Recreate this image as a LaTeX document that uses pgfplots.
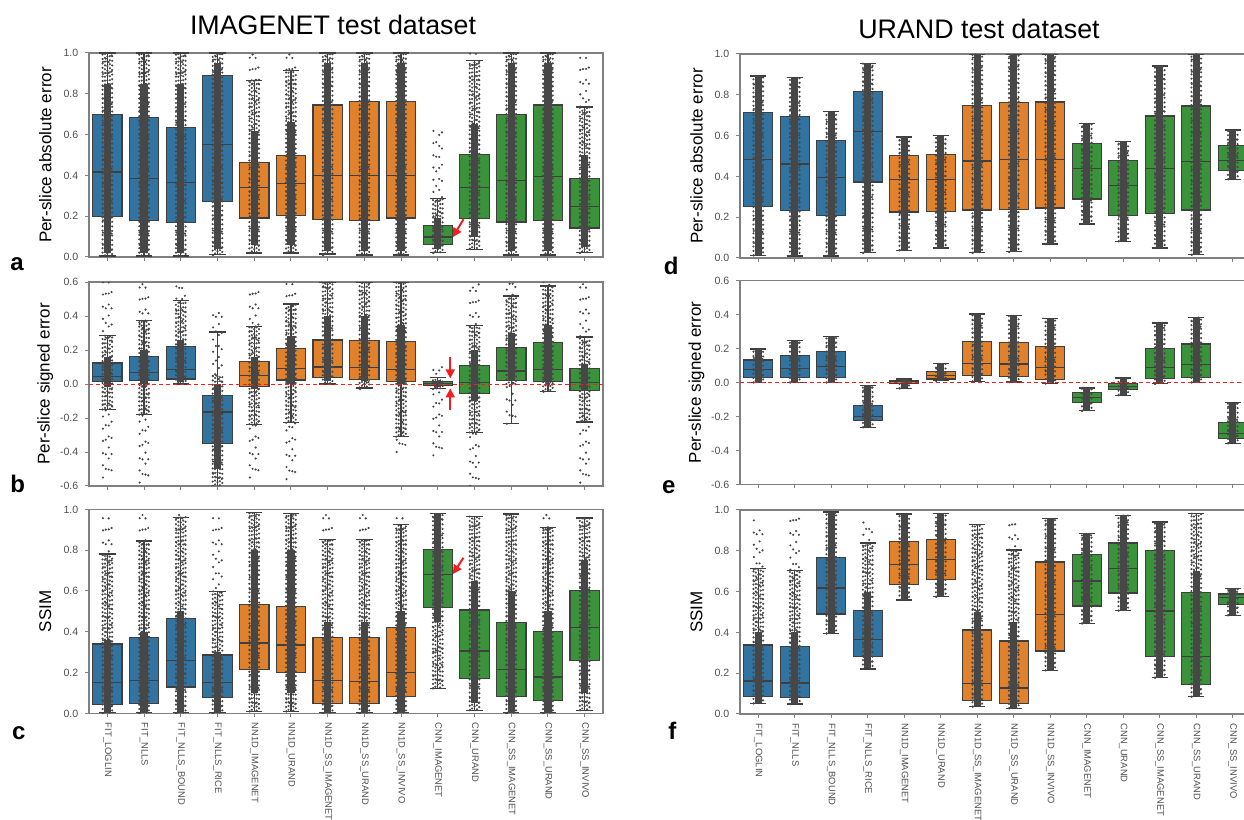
\documentclass[border=0pt]{standalone}
\usepackage{fontspec}
\setmainfont{Liberation Sans}
\usepackage{pgfplots}
\pgfplotsset{compat=1.18}
\usepgfplotslibrary{statistics}
\usetikzlibrary{arrows.meta}
\definecolor{bl}{HTML}{3274A1}
\definecolor{orc}{HTML}{E1812C}
\definecolor{gr}{HTML}{3A923A}
\definecolor{edgec}{HTML}{3F3F3F}
\definecolor{dotc}{HTML}{474747}
\definecolor{spinec}{HTML}{808080}
\definecolor{tickc}{HTML}{505050}
\definecolor{redc}{HTML}{F02020}
\pgfplotsset{
 panel/.style={scale only axis, height=102pt, anchor=south west,
  xmin=-0.5, xmax=13.5, xtick={0,...,13},
  axis line style={draw=spinec, line width=0.6pt},
  tick style={draw=spinec, line width=0.5pt},
  major tick length=1.8pt, tick align=outside, tick pos=left,
  ticklabel style={font=\fontsize{5.3}{6}\selectfont, text=tickc},
  /pgf/number format/assume math mode=true,
  yticklabel style={/pgf/number format/fixed, /pgf/number format/fixed zerofill, /pgf/number format/precision=1},
  ylabel style={font=\fontsize{8.5}{10}\selectfont, at={(axis description cs:-0.085,0.5)}, anchor=center},
  boxplot/draw direction=y, boxplot/box extend=0.8, boxplot/whisker extend=0.45,
  xticklabels={}},
 bottompanel/.style={xticklabels={FIT\_LOGLIN, FIT\_NLLS, FIT\_NLLS\_BOUND, FIT\_NLLS\_RICE, NN1D\_IMAGENET, NN1D\_URAND, NN1D\_SS\_IMAGENET, NN1D\_SS\_URAND, NN1D\_SS\_INVIVO, CNN\_IMAGENET, CNN\_URAND, CNN\_SS\_IMAGENET, CNN\_SS\_URAND, CNN\_SS\_INVIVO},
  xticklabel style={rotate=-90, anchor=west, inner sep=2.8pt, font=\fontsize{4.7}{6}\selectfont, text=tickc}},
 unitrange/.style={ymin=0, ymax=1, ytick={0,0.2,0.4,0.6,0.8,1.0}},
 signedrange/.style={ymin=-0.6, ymax=0.6, ytick={-0.6,-0.4,-0.2,0,0.2,0.4,0.6}},
 spA/.style={draw=dotc, line width=1.2pt, line cap=round, dash pattern=on 0pt off 6.1pt, dash phase=0pt, xshift=-2.2pt},
 spB/.style={draw=dotc, line width=1.2pt, line cap=round, dash pattern=on 0pt off 7.3pt, dash phase=3pt, xshift=-0.8pt},
 spC/.style={draw=dotc, line width=1.2pt, line cap=round, dash pattern=on 0pt off 5.5pt, dash phase=1.5pt, xshift=0.7pt},
 spD/.style={draw=dotc, line width=1.2pt, line cap=round, dash pattern=on 0pt off 8.1pt, dash phase=4.5pt, xshift=2.1pt},
 mdA/.style={draw=dotc, line width=1.2pt, line cap=round, dash pattern=on 0pt off 2.2pt, dash phase=0pt, xshift=-2.4pt},
 mdB/.style={draw=dotc, line width=1.2pt, line cap=round, dash pattern=on 0pt off 1.9pt, dash phase=1.1pt, xshift=-1.2pt},
 mdC/.style={draw=dotc, line width=1.2pt, line cap=round, dash pattern=on 0pt off 2.4pt, dash phase=0.5pt, xshift=0pt},
 mdD/.style={draw=dotc, line width=1.2pt, line cap=round, dash pattern=on 0pt off 2.0pt, dash phase=1.6pt, xshift=1.2pt},
 mdE/.style={draw=dotc, line width=1.2pt, line cap=round, dash pattern=on 0pt off 2.3pt, dash phase=0.8pt, xshift=2.4pt},
 sol/.style={draw=dotc, line width=3.6pt, line cap=butt},
}
% boxplot: x, lower whisker, Q1, median, Q3, upper whisker, colour
\newcommand\bx[7]{\addplot[boxplot prepared={draw position=#1, lower whisker=#2, lower quartile=#3, median=#4, upper quartile=#5, upper whisker=#6}, fill=#7, draw=edgec, line width=0.6pt] coordinates {};}
% strip of points: x, sparse min, medium min, dense min, dense max, medium max, sparse max
\newcommand\st[7]{%
\addplot[spA] coordinates {(#1,#2) (#1,#7)};%
\addplot[spB] coordinates {(#1,#2) (#1,#7)};%
\addplot[spC] coordinates {(#1,#2) (#1,#7)};%
\addplot[spD] coordinates {(#1,#2) (#1,#7)};%
\addplot[mdA] coordinates {(#1,#3) (#1,#6)};%
\addplot[mdB] coordinates {(#1,#3) (#1,#6)};%
\addplot[mdC] coordinates {(#1,#3) (#1,#6)};%
\addplot[mdD] coordinates {(#1,#3) (#1,#6)};%
\addplot[mdE] coordinates {(#1,#3) (#1,#6)};%
\addplot[sol] coordinates {(#1,#4) (#1,#5)};%
}
\newcommand\dd[3]{\st{#1}{#2}{#2}{#2}{#3}{#3}{#3}}
\begin{document}
\begin{tikzpicture}
% ---------------- a ----------------
\begin{axis}[panel, unitrange, width=257pt, at={(44.5pt,281.5pt)}, ylabel={Per-slice absolute error}]
\bx{0}{0.005}{0.198}{0.417}{0.697}{1.0}{bl}
\bx{1}{0.005}{0.180}{0.385}{0.684}{1.0}{bl}
\bx{2}{0.005}{0.170}{0.365}{0.635}{1.0}{bl}
\bx{3}{0.012}{0.272}{0.550}{0.889}{1.0}{bl}
\bx{4}{0.020}{0.191}{0.342}{0.463}{0.867}{orc}
\bx{5}{0.020}{0.205}{0.360}{0.496}{0.913}{orc}
\bx{6}{0.015}{0.183}{0.398}{0.745}{1.0}{orc}
\bx{7}{0.010}{0.178}{0.400}{0.761}{1.0}{orc}
\bx{8}{0.010}{0.191}{0.400}{0.761}{1.0}{orc}
\bx{9}{0.021}{0.062}{0.098}{0.155}{0.285}{gr}
\bx{10}{0.038}{0.187}{0.340}{0.502}{0.962}{gr}
\bx{11}{0.010}{0.172}{0.376}{0.700}{1.0}{gr}
\bx{12}{0.010}{0.178}{0.393}{0.745}{1.0}{gr}
\bx{13}{0.023}{0.142}{0.249}{0.386}{0.735}{gr}
\st{0}{0}{0}{0.02}{0.85}{1}{1}
\st{1}{0}{0}{0.02}{0.85}{1}{1}
\st{2}{0}{0}{0.02}{0.85}{1}{1}
\st{3}{0.01}{0.01}{0.04}{0.95}{1}{1}
\st{4}{0.02}{0.02}{0.06}{0.62}{0.87}{1}
\st{5}{0.02}{0.02}{0.06}{0.66}{0.91}{1}
\st{6}{0.01}{0.01}{0.03}{0.95}{1}{1}
\st{7}{0.01}{0.01}{0.03}{0.95}{1}{1}
\st{8}{0.01}{0.01}{0.03}{0.95}{1}{1}
\st{9}{0.02}{0.02}{0.04}{0.19}{0.285}{0.63}
\st{10}{0.04}{0.04}{0.1}{0.65}{0.96}{1}
\st{11}{0.01}{0.01}{0.03}{0.95}{1}{1}
\st{12}{0.01}{0.01}{0.03}{0.95}{1}{1}
\st{13}{0.02}{0.02}{0.05}{0.5}{0.735}{0.99}
\draw[redc, line width=1pt, -{Triangle[length=4.5pt,width=4.5pt]}] (axis cs:9.70,0.185) -- (axis cs:9.41,0.097);
\end{axis}
% ---------------- b ----------------
\begin{axis}[panel, signedrange, width=257pt, at={(44.5pt,167pt)}, ylabel={Per-slice signed error}]
\bx{0}{-0.148}{0.013}{0.044}{0.124}{0.287}{bl}
\bx{1}{-0.179}{0.022}{0.066}{0.163}{0.375}{bl}
\bx{2}{0.000}{0.030}{0.087}{0.220}{0.493}{bl}
\bx{3}{-0.620}{-0.349}{-0.165}{-0.068}{0.306}{bl}
\bx{4}{-0.236}{-0.015}{0.050}{0.134}{0.336}{orc}
\bx{5}{-0.228}{0.024}{0.089}{0.208}{0.471}{orc}
\bx{6}{0.000}{0.036}{0.100}{0.259}{0.595}{orc}
\bx{7}{-0.024}{0.028}{0.095}{0.257}{0.595}{orc}
\bx{8}{-0.308}{0.017}{0.087}{0.251}{0.595}{orc}
\bx{9}{-0.028}{-0.011}{0.003}{0.017}{0.038}{gr}
\bx{10}{-0.285}{-0.054}{0.011}{0.107}{0.342}{gr}
\bx{11}{-0.234}{0.021}{0.077}{0.216}{0.518}{gr}
\bx{12}{-0.046}{0.017}{0.085}{0.244}{0.576}{gr}
\bx{13}{-0.224}{-0.038}{0.007}{0.091}{0.277}{gr}
\st{0}{-0.55}{-0.15}{-0.02}{0.16}{0.29}{0.6}
\st{1}{-0.58}{-0.18}{0.0}{0.2}{0.375}{0.6}
\st{2}{0.0}{0.0}{0.01}{0.26}{0.49}{0.6}
\st{3}{-0.6}{-0.6}{-0.5}{0.0}{0.06}{0.46}
\st{4}{-0.55}{-0.236}{-0.03}{0.16}{0.336}{0.55}
\st{5}{-0.56}{-0.228}{0.0}{0.28}{0.471}{0.6}
\st{6}{0.0}{0.0}{0.02}{0.4}{0.6}{0.6}
\st{7}{-0.03}{-0.02}{0.02}{0.4}{0.6}{0.6}
\st{8}{-0.4}{-0.31}{0.0}{0.35}{0.6}{0.6}
\st{9}{-0.42}{-0.03}{-0.015}{0.02}{0.04}{0.13}
\st{10}{-0.6}{-0.285}{-0.1}{0.2}{0.342}{0.6}
\st{11}{-0.234}{0.0}{0.02}{0.3}{0.518}{0.6}
\st{12}{-0.046}{-0.04}{0.02}{0.35}{0.576}{0.6}
\st{13}{-0.58}{-0.224}{-0.04}{0.12}{0.277}{0.6}
\addplot[draw=redc, line width=0.5pt, dash pattern=on 2pt off 1.5pt] coordinates {(-0.5,0) (13.5,0)};
\draw[redc, line width=1pt, -{Triangle[length=4.5pt,width=4.5pt]}] (axis cs:9.34,0.159) -- (axis cs:9.34,0.033);
\draw[redc, line width=1pt, -{Triangle[length=4.5pt,width=4.5pt]}] (axis cs:9.34,-0.154) -- (axis cs:9.34,-0.026);
\end{axis}
% ---------------- c ----------------
\begin{axis}[panel, unitrange, bottompanel, width=257pt, at={(44.5pt,53.3pt)}, ylabel={SSIM}]
\bx{0}{0.005}{0.044}{0.150}{0.340}{0.781}{bl}
\bx{1}{0.005}{0.047}{0.162}{0.371}{0.845}{bl}
\bx{2}{0.005}{0.129}{0.260}{0.466}{0.962}{bl}
\bx{3}{0.005}{0.077}{0.152}{0.286}{0.598}{bl}
\bx{4}{0.011}{0.214}{0.345}{0.534}{0.984}{orc}
\bx{5}{0.011}{0.201}{0.335}{0.525}{0.980}{orc}
\bx{6}{0.005}{0.047}{0.162}{0.371}{0.851}{orc}
\bx{7}{0.005}{0.047}{0.158}{0.371}{0.851}{orc}
\bx{8}{0.005}{0.082}{0.201}{0.420}{0.925}{orc}
\bx{9}{0.123}{0.518}{0.681}{0.802}{0.980}{gr}
\bx{10}{0.016}{0.170}{0.306}{0.507}{0.967}{gr}
\bx{11}{0.005}{0.083}{0.216}{0.444}{0.977}{gr}
\bx{12}{0.005}{0.062}{0.178}{0.402}{0.913}{gr}
\bx{13}{0.016}{0.258}{0.420}{0.601}{0.958}{gr}
\st{0}{0.0}{0.0}{0.0}{0.36}{0.78}{0.97}
\st{1}{0.0}{0.0}{0.0}{0.40}{0.845}{0.98}
\st{2}{0.0}{0.0}{0.0}{0.50}{0.962}{0.98}
\st{3}{0.0}{0.0}{0.0}{0.30}{0.598}{0.97}
\st{4}{0.01}{0.01}{0.1}{0.8}{0.984}{0.984}
\st{5}{0.01}{0.01}{0.1}{0.8}{0.98}{0.98}
\st{6}{0.0}{0.0}{0.0}{0.45}{0.851}{0.98}
\st{7}{0.0}{0.0}{0.0}{0.45}{0.851}{0.98}
\st{8}{0.0}{0.0}{0.0}{0.5}{0.925}{0.97}
\st{9}{0.123}{0.123}{0.45}{0.98}{0.98}{0.98}
\st{10}{0.016}{0.016}{0.05}{0.65}{0.967}{0.967}
\st{11}{0.0}{0.0}{0.0}{0.6}{0.977}{0.977}
\st{12}{0.0}{0.0}{0.0}{0.5}{0.913}{0.98}
\st{13}{0.016}{0.016}{0.1}{0.75}{0.958}{0.958}
\draw[redc, line width=1pt, -{Triangle[length=4.5pt,width=4.5pt]}] (axis cs:9.70,0.763) -- (axis cs:9.41,0.683);
\end{axis}
% ---------------- d ----------------
\begin{axis}[panel, unitrange, width=255.5pt, at={(370pt,281pt)}, ylabel={Per-slice absolute error}]
\bx{0}{0.013}{0.253}{0.483}{0.713}{0.892}{bl}
\bx{1}{0.010}{0.232}{0.461}{0.693}{0.883}{bl}
\bx{2}{0.010}{0.210}{0.394}{0.576}{0.718}{bl}
\bx{3}{0.025}{0.373}{0.622}{0.818}{0.954}{bl}
\bx{4}{0.038}{0.225}{0.383}{0.504}{0.593}{orc}
\bx{5}{0.049}{0.228}{0.383}{0.507}{0.599}{orc}
\bx{6}{0.025}{0.235}{0.475}{0.749}{0.998}{orc}
\bx{7}{0.030}{0.236}{0.481}{0.762}{0.998}{orc}
\bx{8}{0.069}{0.245}{0.481}{0.765}{0.998}{orc}
\bx{9}{0.167}{0.289}{0.437}{0.563}{0.658}{gr}
\bx{10}{0.082}{0.207}{0.356}{0.479}{0.570}{gr}
\bx{11}{0.049}{0.218}{0.440}{0.696}{0.941}{gr}
\bx{12}{0.016}{0.235}{0.473}{0.745}{0.998}{gr}
\bx{13}{0.386}{0.427}{0.479}{0.550}{0.627}{gr}
\dd{0}{0.013}{0.892}
\dd{1}{0.010}{0.883}
\dd{2}{0.010}{0.718}
\dd{3}{0.025}{0.954}
\dd{4}{0.038}{0.593}
\dd{5}{0.049}{0.599}
\dd{6}{0.025}{1.0}
\dd{7}{0.030}{1.0}
\dd{8}{0.069}{1.0}
\dd{9}{0.167}{0.658}
\dd{10}{0.082}{0.570}
\dd{11}{0.049}{0.941}
\dd{12}{0.016}{1.0}
\dd{13}{0.386}{0.627}
\end{axis}
% ---------------- e ----------------
\begin{axis}[panel, signedrange, width=255.5pt, at={(370pt,167.8pt)}, ylabel={Per-slice signed error}]
\bx{0}{0.000}{0.030}{0.077}{0.132}{0.197}{bl}
\bx{1}{0.000}{0.030}{0.083}{0.157}{0.246}{bl}
\bx{2}{0.000}{0.031}{0.093}{0.183}{0.271}{bl}
\bx{3}{-0.264}{-0.226}{-0.199}{-0.138}{-0.016}{bl}
\bx{4}{-0.035}{-0.006}{0.003}{0.012}{0.020}{orc}
\bx{5}{0.010}{0.020}{0.042}{0.063}{0.111}{orc}
\bx{6}{0.006}{0.039}{0.112}{0.240}{0.403}{orc}
\bx{7}{0.002}{0.033}{0.108}{0.234}{0.393}{orc}
\bx{8}{-0.006}{0.016}{0.087}{0.210}{0.374}{orc}
\bx{9}{-0.167}{-0.116}{-0.087}{-0.059}{-0.033}{gr}
\bx{10}{-0.075}{-0.043}{-0.024}{-0.006}{0.026}{gr}
\bx{11}{-0.008}{0.024}{0.087}{0.199}{0.350}{gr}
\bx{12}{0.000}{0.031}{0.104}{0.226}{0.382}{gr}
\bx{13}{-0.358}{-0.332}{-0.301}{-0.234}{-0.120}{gr}
\dd{0}{0.000}{0.197}
\dd{1}{0.000}{0.246}
\dd{2}{0.000}{0.271}
\dd{3}{-0.264}{-0.016}
\dd{4}{-0.035}{0.020}
\dd{5}{0.010}{0.111}
\dd{6}{0.006}{0.403}
\dd{7}{0.002}{0.393}
\dd{8}{-0.006}{0.374}
\dd{9}{-0.167}{-0.033}
\dd{10}{-0.075}{0.026}
\dd{11}{-0.008}{0.350}
\dd{12}{0.000}{0.382}
\dd{13}{-0.358}{-0.120}
\addplot[draw=redc, line width=0.5pt, dash pattern=on 2pt off 1.5pt] coordinates {(-0.5,0) (13.5,0)};
\end{axis}
% ---------------- f ----------------
\begin{axis}[panel, unitrange, bottompanel, width=255.5pt, at={(370pt,53pt)}, ylabel={SSIM}]
\bx{0}{0.052}{0.085}{0.162}{0.338}{0.714}{bl}
\bx{1}{0.049}{0.082}{0.152}{0.332}{0.703}{bl}
\bx{2}{0.395}{0.490}{0.618}{0.766}{0.990}{bl}
\bx{3}{0.221}{0.281}{0.364}{0.507}{0.838}{bl}
\bx{4}{0.559}{0.634}{0.734}{0.846}{0.980}{orc}
\bx{5}{0.575}{0.658}{0.757}{0.855}{0.984}{orc}
\bx{6}{0.036}{0.065}{0.150}{0.412}{0.930}{orc}
\bx{7}{0.028}{0.052}{0.127}{0.358}{0.804}{orc}
\bx{8}{0.214}{0.309}{0.489}{0.745}{0.959}{orc}
\bx{9}{0.444}{0.529}{0.652}{0.783}{0.886}{gr}
\bx{10}{0.507}{0.593}{0.714}{0.838}{0.974}{gr}
\bx{11}{0.178}{0.283}{0.505}{0.802}{0.941}{gr}
\bx{12}{0.085}{0.144}{0.283}{0.596}{0.984}{gr}
\bx{13}{0.484}{0.538}{0.572}{0.588}{0.616}{gr}
\st{0}{0.052}{0.052}{0.055}{0.40}{0.714}{0.95}
\st{1}{0.049}{0.049}{0.05}{0.40}{0.703}{0.96}
\dd{2}{0.395}{0.99}
\st{3}{0.221}{0.221}{0.225}{0.6}{0.838}{0.95}
\dd{4}{0.559}{0.98}
\dd{5}{0.575}{0.984}
\st{6}{0.036}{0.036}{0.04}{0.5}{0.93}{0.93}
\st{7}{0.028}{0.028}{0.03}{0.45}{0.804}{0.93}
\dd{8}{0.214}{0.959}
\dd{9}{0.444}{0.886}
\dd{10}{0.507}{0.974}
\dd{11}{0.178}{0.941}
\st{12}{0.085}{0.085}{0.09}{0.7}{0.984}{0.984}
\dd{13}{0.484}{0.616}
\end{axis}
% titles and panel letters
\node[anchor=base, font=\fontsize{13.4}{16}\selectfont] at (166.5pt,392.5pt) {IMAGENET test dataset};
\node[anchor=base, font=\fontsize{13.4}{16}\selectfont] at (489.5pt,390.8pt) {URAND test dataset};
\node[anchor=base west, inner sep=0pt, font=\bfseries\fontsize{12}{14}\selectfont] at (5pt,274.6pt) {a};
\node[anchor=base west, inner sep=0pt, font=\bfseries\fontsize{12}{14}\selectfont] at (5pt,163.7pt) {b};
\node[anchor=base west, inner sep=0pt, font=\bfseries\fontsize{12}{14}\selectfont] at (5.8pt,40pt) {c};
\node[anchor=base west, inner sep=0pt, font=\bfseries\fontsize{12}{14}\selectfont] at (331.7pt,272.5pt) {d};
\node[anchor=base west, inner sep=0pt, font=\bfseries\fontsize{12}{14}\selectfont] at (330.8pt,163.3pt) {e};
\node[anchor=base west, inner sep=0pt, font=\bfseries\fontsize{12}{14}\selectfont] at (334pt,40pt) {f};
\pgfresetboundingbox
\path[use as bounding box] (0pt,0pt) rectangle (622pt,410pt);
\end{tikzpicture}
\end{document}
